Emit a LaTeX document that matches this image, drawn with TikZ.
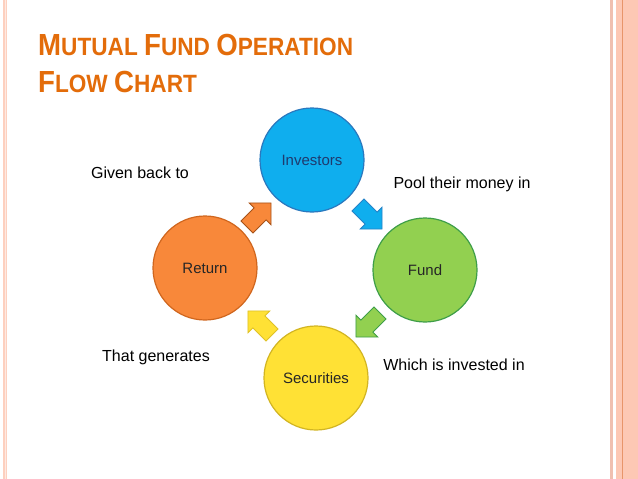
\documentclass[tikz,border=0pt]{standalone}
\usepackage{fontspec}
\usepackage{graphicx}
\setmainfont{Liberation Sans}
\usetikzlibrary{shapes.arrows}
\definecolor{titleor}{HTML}{E36C0A}
\definecolor{salmon}{HTML}{FDC8B4}
\definecolor{pinkline}{HTML}{F0C0B0}
\definecolor{orline}{HTML}{E8956A}
\definecolor{invfill}{HTML}{0FAEEE}
\definecolor{invdraw}{HTML}{2A78BE}
\definecolor{invtext}{HTML}{1F3A6E}
\definecolor{fundfill}{HTML}{92D050}
\definecolor{funddraw}{HTML}{3E9E48}
\definecolor{retfill}{HTML}{F8883A}
\definecolor{retdraw}{HTML}{D0661E}
\definecolor{secfill}{HTML}{FFE135}
\definecolor{secdraw}{HTML}{D2B522}
\newcommand{\bigc}[1]{{\fontsize{30.5}{30.5}\selectfont #1}}
\newcommand{\smc}[1]{{\fontsize{25}{25}\selectfont #1}}
\newcommand{\tsp}{\hspace{7pt}}
\tikzset{
  bubble/.style={circle, minimum size=104pt, inner sep=0pt, line width=1.2pt, font=\fontsize{15}{15}\selectfont},
  label/.style={font=\fontsize{16}{16}\selectfont, text=black, inner sep=0pt},
  blockarrow/.style={single arrow, minimum height=34pt, inner sep=8pt, single arrow head extend=7pt, line width=0.9pt},
  titletext/.style={anchor=base west, inner sep=0pt, text=titleor, font=\bfseries}
}
\begin{document}
\begin{tikzpicture}[x=1pt,y=-1pt]
\useasboundingbox (0,0) rectangle (638,479);
\fill[white] (0,0) rectangle (638,479);
% borders
\fill[salmon!85!white] (3,0) rectangle (7,479);
\draw[white!60!salmon, line width=1pt] (5,0) -- (5,479);
\fill[pinkline] (610,0) rectangle (612.7,479);
\fill[salmon] (616,0) rectangle (638,479);
\draw[orline, line width=1pt] (622.2,0) -- (622.2,479);
% title
\node[titletext] (t1) at (38,55) {\scalebox{0.905}[1]{\bigc{M}\smc{UTUAL}\tsp\bigc{F}\smc{UND}\tsp\bigc{O}\smc{PERATION}}};
\node[titletext] (t2) at (38,92) {\scalebox{0.905}[1]{\bigc{F}\smc{LOW}\tsp\bigc{C}\smc{HART}}};
% circles
\node[bubble, fill=invfill, draw=invdraw, text=invtext] (inv) at (312,160) {Investors};
\node[bubble, fill=fundfill, draw=funddraw, text=black!85] (fund) at (425,270) {Fund};
\node[bubble, fill=retfill, draw=retdraw, text=black!85] (ret) at (205,268) {Return};
\node[bubble, fill=secfill, draw=secdraw, text=black!85] (sec) at (316,378) {Securities};
% block arrows
\node[blockarrow, fill=invfill, draw=invdraw!80!invfill, rotate=-45] (a1) at (367,214) {};
\node[blockarrow, fill=fundfill, draw=funddraw, rotate=-135] (a2) at (371,322) {};
\node[blockarrow, fill=secfill, draw=secdraw!70!secfill, rotate=135] (a3) at (263,326) {};
\node[blockarrow, fill=retfill, draw=retdraw!80!black, rotate=45] (a4) at (256,218) {};
% labels
\node[label] (l1) at (140,173) {Given back to};
\node[label] (l2) at (462,184) {Pool their money in};
\node[label] (l3) at (156,357) {That generates};
\node[label] (l4) at (454,365) {Which is invested in};
\end{tikzpicture}
\end{document}
